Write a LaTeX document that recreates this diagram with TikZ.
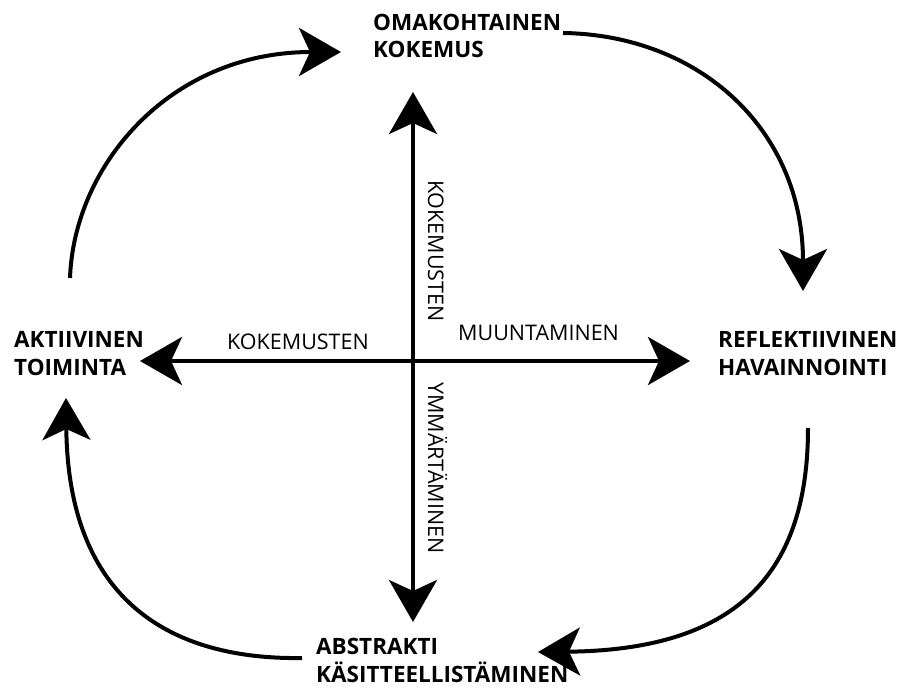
\documentclass[tikz,border=0pt]{standalone}
\usepackage{fontspec}
\setmainfont{Open Sans}
\usetikzlibrary{arrows.meta}
\begin{document}
\begin{tikzpicture}[x=1pt,y=-1pt,
  flow/.style={line width=4pt, line cap=butt,
    -{Stealth[length=42pt,width=48pt,inset=11pt]}},
  stage/.style={font=\bfseries\fontsize{22.5}{28}\selectfont,
    anchor=base west, inner sep=0pt, align=left},
  axislabel/.style={font=\fontsize{21.5}{24}\selectfont,
    anchor=base west, inner sep=0pt},
]
\useasboundingbox (0,0) rectangle (900,693);

% the four stages of the cycle (anchored at the baseline of the last line)
\node[stage] (kokemus)  at (373,58)  {OMAKOHTAINEN\\KOKEMUS};
\node[stage] (reflekt)  at (718,375) {REFLEKTIIVINEN\\HAVAINNOINTI};
\node[stage] (abstrakt) at (316,682) {ABSTRAKTI\\KÄSITTEELLISTÄMINEN};
\node[stage] (aktiiv)   at (14,375)  {AKTIIVINEN\\TOIMINTA};

% axis labels
\node[axislabel] (hleft)  at (227,349) {KOKEMUSTEN};
\node[axislabel] (hright) at (458,340) {MUUNTAMINEN};
\node[axislabel, rotate=-90] (vtop) at (428,180) {KOKEMUSTEN};
\node[axislabel, rotate=-90] (vbot) at (428,382) {YMMÄRTÄMINEN};

% axes
\coordinate (centre) at (413,361);
\coordinate (axN) at (413,92);
\coordinate (axS) at (413,622);
\coordinate (axW) at (140,361);
\coordinate (axE) at (690,361);
\draw[flow] (centre) -- (axN);
\draw[flow] (centre) -- (axS);
\draw[flow] (centre) -- (axW);
\draw[flow] (centre) -- (axE);

% cycle arrows
\coordinate (c1s) at (70,278);   \coordinate (c1e) at (341,52);
\coordinate (c2s) at (563,33);   \coordinate (c2e) at (803,291);
\coordinate (c3s) at (808,428);  \coordinate (c3e) at (538,652);
\coordinate (c4s) at (302,658);  \coordinate (c4e) at (66,398);
\draw[flow] (c1s) .. controls (74,165) and (170,52) .. (c1e);
\draw[flow] (c2s) .. controls (700,35) and (803,130) .. (c2e);
\draw[flow] (c3s) .. controls (808,580) and (730,650) .. (c3e);
\draw[flow] (c4s) .. controls (170,660) and (68,600) .. (c4e);
\end{tikzpicture}
\end{document}
